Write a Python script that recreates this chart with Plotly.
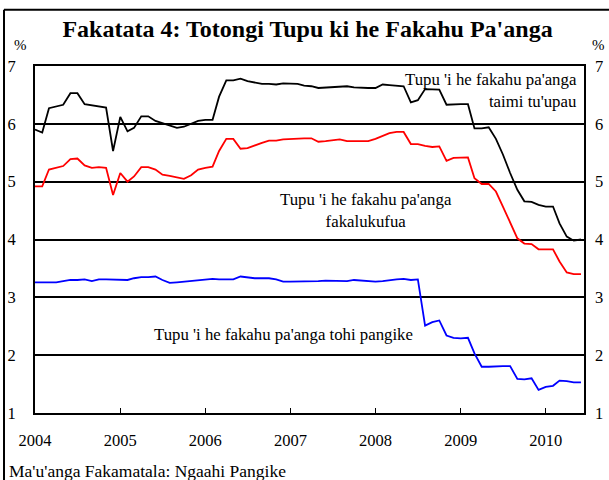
import plotly.graph_objects as go
import pandas as pd

months = pd.date_range("2004-01-01", periods=78, freq="MS").strftime("%Y-%m-%d").tolist()

taimi_tuupau = [5.90, 5.85, 6.27, 6.30, 6.33, 6.53, 6.53, 6.34, 6.32, 6.30, 6.28, 5.53,
                6.12, 5.87, 5.93, 6.13, 6.13, 6.05, 6.01, 5.98, 5.93, 5.95, 6.00, 6.05,
                6.07, 6.07, 6.47, 6.75, 6.75, 6.78, 6.74, 6.72, 6.69, 6.69, 6.68, 6.70,
                6.69, 6.69, 6.66, 6.65, 6.62, 6.63, 6.64, 6.65, 6.65, 6.63, 6.62, 6.62,
                6.62, 6.68, 6.67, 6.66, 6.65, 6.37, 6.41, 6.60, 6.59, 6.59, 6.33, 6.34,
                6.34, 6.34, 5.92, 5.92, 5.94, 5.74, 5.47, 5.15, 4.86, 4.66, 4.65, 4.60,
                4.57, 4.57, 4.28, 4.05, 3.98, 4.00]

fakalukufua = [4.92, 4.92, 5.21, 5.24, 5.27, 5.39, 5.40, 5.28, 5.24, 5.25, 5.24, 4.77,
               5.15, 5.00, 5.09, 5.25, 5.25, 5.21, 5.12, 5.10, 5.08, 5.05, 5.11, 5.21,
               5.24, 5.26, 5.53, 5.74, 5.74, 5.57, 5.58, 5.63, 5.67, 5.71, 5.71, 5.73,
               5.74, 5.75, 5.75, 5.75, 5.69, 5.70, 5.72, 5.73, 5.70, 5.70, 5.69, 5.70,
               5.74, 5.79, 5.84, 5.86, 5.86, 5.65, 5.65, 5.62, 5.60, 5.61, 5.36, 5.41,
               5.42, 5.42, 5.06, 4.96, 4.96, 4.83, 4.57, 4.28, 4.02, 3.93, 3.92, 3.83,
               3.83, 3.83, 3.62, 3.43, 3.40, 3.40]

tohi_pangike = [3.26, 3.26, 3.26, 3.26, 3.28, 3.30, 3.30, 3.31, 3.28, 3.31, 3.31, 3.31,
                3.31, 3.30, 3.33, 3.35, 3.35, 3.36, 3.30, 3.25, 3.26, 3.27, 3.29, 3.29,
                3.30, 3.32, 3.31, 3.31, 3.31, 3.36, 3.34, 3.33, 3.33, 3.33, 3.31, 3.27,
                3.27, 3.27, 3.28, 3.28, 3.28, 3.29, 3.29, 3.28, 3.28, 3.30, 3.29, 3.27,
                3.27, 3.28, 3.30, 3.31, 3.32, 3.30, 3.31, 2.51, 2.57, 2.60, 2.34, 2.30,
                2.29, 2.30, 2.03, 1.80, 1.80, 1.81, 1.81, 1.81, 1.59, 1.58, 1.60, 1.40,
                1.45, 1.47, 1.56, 1.55, 1.53, 1.53]

y_ticks = [1, 2, 3, 4, 5, 6, 7]
x_ticks = ["2004-01-01", "2005-01-01", "2006-01-01", "2007-01-01", "2008-01-01", "2009-01-01", "2010-01-01"]
x_tick_labels = ["2004", "2005", "2006", "2007", "2008", "2009", "2010"]

FONT = "Liberation Serif"

fig = go.Figure()
fig.add_trace(go.Scatter(x=months, y=taimi_tuupau, mode="lines",
                         line=dict(color="#000000", width=1.8), showlegend=False))
fig.add_trace(go.Scatter(x=months, y=fakalukufua, mode="lines",
                         line=dict(color="#ff0000", width=1.8), showlegend=False))
fig.add_trace(go.Scatter(x=months, y=tohi_pangike, mode="lines",
                         line=dict(color="#0000ff", width=1.8), showlegend=False))
# invisible trace on right axis for right-hand tick labels
fig.add_trace(go.Scatter(x=[months[0]], y=[1], mode="markers", yaxis="y2",
                         marker=dict(opacity=0), showlegend=False, hoverinfo="skip"))

TICKFONT = dict(family=FONT, size=16.5, color="black")

fig.update_layout(
    width=609, height=480,
    margin=dict(l=35, r=25, t=66, b=67, autoexpand=False),
    paper_bgcolor="white", plot_bgcolor="white",
    font=dict(family=FONT, size=16, color="black"),
    title=dict(text="Fakatata 4: Totongi Tupu ki he Fakahu Pa'anga",
               x=0.505, xanchor="center", y=1 - 29 / 480, yanchor="middle",
               font=dict(family=FONT, size=24, color="black", weight="bold")),
    xaxis=dict(type="date", range=["2004-01-01", "2010-06-14"],
               tickvals=x_ticks, ticktext=x_tick_labels,
               ticks="inside", ticklen=5, tickwidth=1, tickcolor="black",
               showgrid=False, zeroline=False,
               showline=True, linecolor="black", linewidth=2, mirror=True,
               ticklabelstandoff=11,
               tickfont=TICKFONT),
    yaxis=dict(range=[1, 7], tickvals=y_ticks, ticks="",
               showgrid=True, gridcolor="black", gridwidth=1.5,
               zeroline=False, showline=True, linecolor="black", linewidth=2, mirror=True,
               ticklabelstandoff=14,
               tickfont=TICKFONT),
    yaxis2=dict(range=[1, 7], tickvals=y_ticks, ticks="", overlaying="y", side="right",
                showgrid=False, zeroline=False, showline=False,
                ticklabelstandoff=10,
                tickfont=TICKFONT),
)

def px_to_paper_x(px):
    return (px - 35) / 549.0

def px_to_paper_y(py):
    return (413.3 - py) / 347.0

# outer frame (top and left)
fig.add_shape(type="line", xref="paper", yref="paper",
              x0=px_to_paper_x(4), x1=px_to_paper_x(612),
              y0=px_to_paper_y(10), y1=px_to_paper_y(10),
              line=dict(color="black", width=2))
fig.add_shape(type="line", xref="paper", yref="paper",
              x0=px_to_paper_x(4), x1=px_to_paper_x(4),
              y0=px_to_paper_y(10), y1=px_to_paper_y(485),
              line=dict(color="black", width=2))

ann_font = dict(family=FONT, size=16.8, color="black")
fig.add_annotation(xref="paper", yref="paper", x=px_to_paper_x(20), y=px_to_paper_y(45),
                   text="%", showarrow=False, font=dict(family=FONT, size=15, color="black"),
                   xanchor="center", yanchor="middle")
fig.add_annotation(xref="paper", yref="paper", x=px_to_paper_x(598), y=px_to_paper_y(45),
                   text="%", showarrow=False, font=dict(family=FONT, size=15, color="black"),
                   xanchor="center", yanchor="middle")
fig.add_annotation(xref="paper", yref="paper", x=px_to_paper_x(579), y=px_to_paper_y(91),
                   text="Tupu 'i he fakahu pa'anga<br>taimi tu'upau", align="right",
                   showarrow=False, font=ann_font, xanchor="right", yanchor="middle")
fig.add_annotation(xref="paper", yref="paper", x=px_to_paper_x(366), y=px_to_paper_y(211),
                   text="Tupu 'i he fakahu pa'anga<br>fakalukufua", align="center",
                   showarrow=False, font=ann_font, xanchor="center", yanchor="middle")
fig.add_annotation(xref="paper", yref="paper", x=px_to_paper_x(283), y=px_to_paper_y(335),
                   text="Tupu 'i he fakahu pa'anga tohi pangike", align="center",
                   showarrow=False, font=ann_font, xanchor="center", yanchor="middle")
fig.add_annotation(xref="paper", yref="paper", x=px_to_paper_x(7), y=px_to_paper_y(471),
                   text="Ma'u'anga Fakamatala: Ngaahi Pangike", align="left",
                   showarrow=False, font=dict(family=FONT, size=17.5, color="black"),
                   xanchor="left", yanchor="middle")

fig.write_html("out.html",
               config={"displayModeBar": False},
               post_script="document.body.style.margin='0';document.body.style.overflow='hidden';")
